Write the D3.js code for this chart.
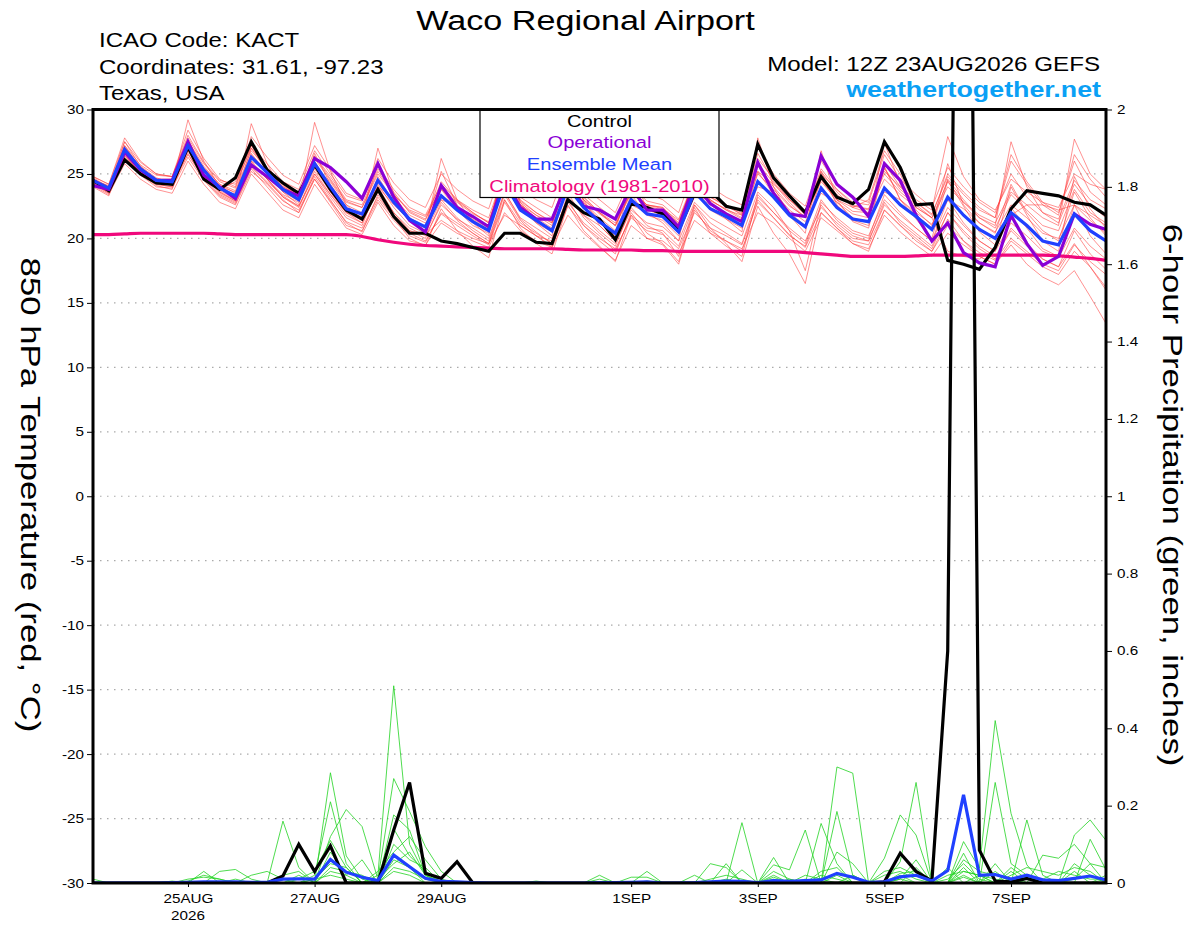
<!DOCTYPE html>
<html>
<head>
<meta charset="utf-8">
<script src="https://cdn.jsdelivr.net/npm/d3@7"></script>
<style>
  body { margin: 0; background: #fff; }
  svg { display: block; }
</style>
</head>
<body>
<div id="chart"></div>
<script>
// ---- data : 6-hourly steps from 12Z 23AUG2026 to 12Z 08SEP2026 ----
const runStart = "2026-08-23T12:00:00Z";
const stepHours = 6;

// 850 hPa temperature (C)
const controlTemp = [
  24.5, 23.7, 26.1, 25.0, 24.3, 24.2, 27.1, 24.6, 23.8, 24.7,
  27.5, 25.3, 24.3, 23.5, 25.7, 23.8, 22.2, 21.5, 23.8, 21.7,
  20.4, 20.4, 19.8, 19.6, 19.3, 19.0, 20.4, 20.4, 19.7, 19.6,
  23.0, 22.0, 21.5, 19.9, 22.7, 22.4, 21.9, 20.7, 23.5, 23.7,
  22.5, 22.2, 27.3, 24.7, 23.3, 22.0, 24.8, 23.2, 22.7, 23.8,
  27.5, 25.5, 22.6, 22.7, 18.3, 18.0, 17.6, 19.3, 22.3, 23.7,
  23.5, 23.3, 22.8, 22.6, 21.8
];
const operationalTemp = [
  24.1, 23.8, 26.7, 25.3, 24.5, 24.5, 27.5, 24.9, 24.0, 23.1,
  25.7, 24.8, 23.8, 23.3, 26.2, 25.5, 24.4, 23.1, 25.8, 23.2,
  21.4, 20.5, 24.1, 22.4, 21.7, 20.9, 24.6, 22.4, 21.5, 21.5,
  24.5, 22.5, 22.2, 21.5, 24.0, 22.2, 22.2, 20.9, 24.2, 22.7,
  21.9, 21.3, 25.9, 23.5, 21.9, 21.7, 26.4, 24.2, 23.2, 21.7,
  25.8, 24.5, 21.8, 19.8, 21.2, 18.9, 18.1, 17.8, 21.8, 19.6,
  17.9, 18.6, 21.9, 21.1, 20.7
];
const meanTemp = [
  24.5, 23.9, 26.9, 25.4, 24.5, 24.4, 27.2, 25.3, 23.9, 23.3,
  26.3, 25.1, 23.8, 23.0, 25.8, 24.0, 22.3, 21.9, 24.5, 22.8,
  21.5, 20.9, 23.3, 22.2, 21.3, 20.6, 24.3, 22.2, 21.4, 20.6,
  24.0, 22.4, 21.3, 20.4, 23.0, 21.9, 21.7, 20.5, 23.6, 22.3,
  21.7, 21.0, 24.4, 23.2, 21.8, 20.9, 23.9, 22.4, 21.5, 21.3,
  23.9, 22.6, 21.7, 20.7, 23.2, 21.8, 20.7, 20.0, 22.0, 21.0,
  19.8, 19.5, 21.9, 20.6, 19.8
];
const climoTemp = [
  20.3, 20.3, 20.35, 20.4, 20.4, 20.4, 20.4, 20.4, 20.35, 20.3,
  20.3, 20.3, 20.3, 20.3, 20.3, 20.3, 20.3, 20.15, 19.9, 19.7,
  19.55, 19.45, 19.4, 19.35, 19.3, 19.25, 19.2, 19.2, 19.2, 19.2,
  19.15, 19.1, 19.1, 19.1, 19.1, 19.05, 19.05, 19.0, 19.0, 19.0,
  19.0, 19.0, 19.0, 19.0, 19.0, 18.9, 18.8, 18.7, 18.6, 18.6,
  18.6, 18.6, 18.65, 18.7, 18.7, 18.7, 18.7, 18.7, 18.7, 18.7,
  18.7, 18.65, 18.55, 18.45, 18.3
];
const memberTemp = [
  [24.8, 24.2, 27.8, 26.0, 25.0, 24.8, 28.4, 26.2, 24.6, 24.0,
   27.9, 26.3, 24.9, 24.2, 27.2, 25.3, 23.5, 23.0, 26.2, 24.3,
   23.0, 22.4, 25.0, 23.8, 22.9, 22.3, 26.0, 23.8, 23.0, 22.4,
   25.8, 24.0, 23.0, 22.0, 24.8, 23.5, 23.0, 22.0, 25.5, 24.0,
   23.2, 22.6, 27.0, 25.0, 23.5, 22.5, 26.0, 24.2, 23.2, 22.8,
   26.5, 24.6, 23.4, 22.4, 25.5, 24.0, 22.8, 22.0, 25.0, 23.2,
   22.0, 21.5, 24.5, 23.0, 22.3],
  [24.2, 23.5, 26.2, 24.9, 24.0, 23.9, 26.3, 24.5, 23.2, 22.6,
   25.2, 24.2, 22.9, 22.2, 24.6, 22.9, 21.3, 20.8, 23.2, 21.6,
   20.4, 19.8, 21.9, 21.0, 20.2, 19.5, 22.8, 21.0, 20.2, 19.4,
   22.5, 21.0, 20.0, 19.2, 21.6, 20.6, 20.3, 19.2, 22.0, 20.8,
   20.2, 19.5, 22.8, 21.6, 20.3, 19.3, 22.0, 20.8, 19.8, 19.5,
   22.2, 21.0, 20.0, 19.0, 21.0, 19.8, 18.9, 18.3, 20.0, 19.0,
   18.0, 17.5, 19.5, 18.2, 17.2],
  [24.6, 23.8, 27.5, 25.6, 24.4, 24.1, 29.2, 26.0, 24.0, 23.0,
   28.9, 25.8, 23.6, 22.6, 29.0, 25.2, 22.6, 21.5, 27.0, 23.5,
   21.4, 20.6, 26.2, 23.0, 21.2, 20.2, 26.5, 22.8, 21.2, 20.2,
   26.0, 23.0, 21.0, 19.8, 24.5, 22.0, 21.2, 19.8, 25.8, 22.8,
   21.5, 20.5, 27.8, 24.0, 21.8, 20.4, 26.8, 23.0, 21.3, 20.8,
   25.5, 23.0, 21.5, 20.0, 24.5, 22.5, 20.5, 19.5, 24.0, 21.8,
   19.8, 19.0, 24.8, 22.3, 20.8],
  [24.0, 23.3, 26.5, 25.0, 24.2, 24.0, 26.8, 24.8, 23.6, 23.0,
   25.6, 24.4, 23.3, 22.5, 25.0, 23.4, 22.0, 21.7, 24.0, 22.6,
   21.4, 20.9, 23.2, 22.3, 21.6, 21.0, 24.6, 22.6, 21.8, 21.2,
   24.5, 23.0, 22.0, 21.2, 23.6, 22.6, 22.3, 21.4, 24.4, 23.2,
   22.6, 22.0, 25.2, 24.2, 23.0, 22.2, 25.0, 23.8, 22.8, 22.6,
   25.2, 24.0, 23.0, 22.2, 27.9, 24.8, 23.0, 22.2, 24.6, 23.6,
   22.8, 22.4, 25.0, 24.2, 23.8],
  [24.3, 23.6, 26.8, 25.3, 24.6, 24.5, 27.0, 25.0, 23.8, 23.4,
   26.0, 24.6, 23.4, 22.8, 25.4, 23.6, 22.0, 21.2, 24.2, 22.4,
   21.0, 20.4, 23.0, 21.6, 20.6, 19.8, 23.6, 21.5, 20.5, 19.6,
   23.5, 21.6, 20.4, 19.4, 22.4, 21.0, 20.4, 18.6, 22.6, 20.8,
   19.6, 18.2, 22.5, 20.4, 18.8, 16.5, 22.0, 20.8, 19.6, 19.0,
   22.2, 21.0, 19.8, 19.0, 21.5, 19.8, 18.6, 18.0, 19.5, 18.0,
   17.0, 16.4, 17.5, 15.5, 13.4],
  [24.7, 24.0, 27.2, 25.7, 24.9, 24.8, 27.8, 25.8, 24.4, 23.9,
   27.2, 25.8, 24.4, 23.8, 26.8, 25.0, 23.3, 22.9, 25.6, 23.8,
   22.4, 21.8, 24.2, 23.0, 22.2, 21.6, 25.2, 23.2, 22.4, 21.6,
   25.0, 23.4, 22.4, 21.5, 24.0, 22.9, 22.6, 21.5, 24.6, 23.2,
   22.5, 21.9, 25.8, 24.3, 22.8, 21.6, 24.8, 23.4, 22.5, 22.3,
   25.0, 23.6, 22.6, 21.6, 24.4, 22.8, 21.6, 20.8, 23.4, 22.2,
   21.0, 20.6, 23.8, 22.0, 21.2],
  [24.4, 23.7, 26.4, 25.1, 24.3, 24.2, 26.5, 24.7, 23.4, 22.8,
   25.5, 24.3, 23.0, 22.0, 24.8, 23.0, 21.2, 20.5, 23.4, 21.6,
   20.0, 19.4, 22.3, 20.6, 19.4, 18.5, 23.0, 20.8, 19.6, 18.8,
   22.6, 20.6, 19.4, 18.2, 21.8, 20.0, 19.5, 18.0, 22.2, 20.6,
   19.8, 19.0, 23.0, 21.6, 20.2, 19.4, 22.6, 21.0, 20.0, 19.8,
   22.8, 21.2, 20.2, 19.2, 22.0, 20.4, 19.2, 18.4, 20.8, 19.6,
   18.4, 17.8, 20.6, 18.8, 17.6],
  [24.5, 24.1, 26.6, 25.6, 24.7, 24.3, 27.0, 25.5, 24.2, 23.5,
   26.0, 25.3, 24.0, 23.3, 25.5, 24.4, 22.6, 22.0, 24.0, 23.2,
   21.8, 21.2, 23.0, 22.5, 21.5, 20.8, 24.0, 22.6, 21.6, 20.8,
   23.8, 22.8, 21.6, 20.6, 22.8, 22.2, 21.9, 20.7, 23.4, 22.6,
   21.9, 21.3, 24.0, 23.6, 22.2, 21.3, 23.5, 22.8, 21.9, 21.6,
   23.6, 23.0, 22.0, 21.1, 23.0, 22.3, 21.2, 20.5, 22.6, 21.6,
   20.4, 20.0, 22.6, 21.4, 20.4],
  [24.6, 23.9, 27.0, 25.4, 24.4, 24.2, 27.4, 25.2, 23.7, 23.1,
   26.6, 25.0, 23.6, 22.9, 26.0, 24.0, 22.2, 21.6, 24.8, 22.8,
   21.3, 20.8, 23.8, 22.2, 21.0, 20.4, 24.8, 22.3, 21.2, 20.5,
   24.5, 22.4, 21.2, 20.2, 23.4, 21.8, 21.4, 20.2, 24.0, 22.2,
   21.5, 20.8, 25.2, 23.4, 21.8, 20.8, 24.6, 22.8, 21.6, 21.2,
   27.4, 24.2, 22.2, 21.0, 24.6, 23.0, 21.6, 21.0, 27.5, 24.0,
   22.0, 21.2, 24.2, 22.6, 21.6],
  [24.4, 23.8, 26.9, 25.5, 24.6, 24.6, 27.3, 25.4, 24.0, 23.6,
   26.5, 25.2, 24.0, 23.4, 26.2, 24.5, 22.8, 22.4, 25.2, 23.4,
   22.2, 21.7, 23.8, 22.8, 21.9, 21.3, 24.8, 22.9, 22.0, 21.3,
   24.6, 23.0, 21.9, 21.0, 23.5, 22.5, 22.2, 21.2, 24.2, 22.9,
   22.3, 21.6, 25.0, 23.8, 22.5, 21.7, 24.4, 23.0, 22.1, 22.0,
   24.6, 23.4, 22.4, 21.6, 24.0, 22.8, 21.8, 21.2, 23.6, 22.6,
   21.6, 21.0, 27.7, 25.0, 23.8],
  [24.1, 23.4, 25.8, 24.6, 23.8, 23.5, 26.0, 24.2, 22.8, 22.3,
   25.0, 23.6, 22.2, 21.6, 24.2, 22.5, 20.8, 20.3, 22.8, 21.0,
   19.8, 19.5, 21.2, 20.4, 19.8, 19.3, 22.0, 20.6, 19.8, 19.3,
   21.8, 20.4, 19.3, 18.3, 21.0, 20.0, 19.8, 18.8, 21.4, 20.4,
   19.8, 19.2, 22.0, 21.2, 20.0, 19.0, 21.6, 20.6, 19.6, 19.2,
   21.8, 20.5, 19.5, 18.6, 20.4, 19.5, 18.6, 18.0, 19.8, 18.8,
   17.8, 17.2, 19.0, 17.8, 16.2],
  [24.8, 24.2, 27.5, 25.9, 25.0, 24.8, 28.0, 25.9, 24.5, 24.2,
   27.0, 25.5, 24.2, 23.6, 26.4, 24.8, 23.0, 22.6, 25.4, 23.6,
   22.0, 21.4, 24.4, 23.0, 22.0, 21.2, 25.0, 22.8, 21.8, 21.0,
   25.2, 23.2, 22.0, 21.0, 23.8, 22.6, 22.4, 21.0, 24.8, 23.4,
   22.6, 21.8, 26.2, 24.6, 23.0, 21.9, 25.4, 23.8, 22.6, 22.2,
   25.8, 24.0, 22.8, 21.8, 25.0, 23.6, 22.4, 21.6, 26.5, 24.4,
   22.8, 22.0, 26.0, 23.6, 22.6],
  [24.3, 23.5, 26.6, 25.0, 24.1, 23.8, 27.0, 24.9, 23.5, 22.9,
   25.9, 24.6, 23.2, 22.5, 25.2, 23.4, 21.8, 21.2, 23.8, 22.0,
   20.8, 20.2, 22.6, 21.5, 20.8, 20.0, 23.6, 21.6, 20.8, 20.0,
   23.2, 21.8, 20.6, 19.6, 22.2, 21.2, 20.9, 19.8, 22.8, 21.6,
   20.9, 20.2, 23.6, 22.4, 20.6, 17.5, 22.8, 21.6, 20.6, 20.2,
   23.0, 21.8, 20.8, 19.8, 22.4, 21.0, 19.8, 19.0, 21.2, 20.2,
   19.0, 18.5, 20.8, 19.4, 18.4],
  [24.6, 24.0, 27.1, 25.5, 24.6, 24.4, 27.6, 25.6, 24.2, 23.7,
   26.8, 25.4, 24.1, 23.4, 26.4, 24.6, 22.9, 22.4, 25.0, 23.4,
   22.1, 21.5, 24.0, 22.9, 22.0, 21.2, 25.4, 23.0, 22.0, 21.2,
   24.8, 23.2, 22.0, 21.0, 23.6, 22.6, 22.4, 21.2, 24.6, 23.0,
   22.2, 21.5, 25.6, 24.0, 22.6, 21.6, 25.2, 23.6, 22.4, 22.0,
   25.4, 23.8, 22.8, 21.9, 24.8, 23.4, 22.2, 21.6, 26.0, 24.2,
   22.6, 21.8, 26.5, 24.6, 23.2],
  [24.2, 23.6, 26.4, 25.0, 24.2, 24.0, 26.6, 24.6, 23.3, 22.7,
   25.4, 24.0, 22.6, 22.0, 24.6, 22.8, 21.0, 20.6, 23.0, 21.4,
   20.2, 19.7, 22.0, 21.2, 20.4, 19.6, 23.0, 21.2, 20.4, 19.6,
   22.8, 21.2, 20.2, 19.0, 21.8, 20.8, 20.6, 19.4, 22.6, 21.2,
   20.4, 19.6, 23.2, 22.0, 20.8, 19.8, 22.4, 21.2, 20.2, 19.8,
   22.6, 21.4, 20.4, 19.4, 22.0, 20.6, 19.4, 18.6, 20.6, 19.4,
   18.4, 17.8, 19.6, 17.8, 16.0],
  [24.5, 23.8, 27.2, 25.4, 24.5, 24.3, 27.6, 25.4, 23.9, 23.2,
   27.0, 25.2, 23.8, 23.0, 26.6, 24.2, 22.4, 21.8, 25.8, 23.0,
   21.6, 20.9, 25.2, 22.6, 21.4, 20.7, 26.0, 22.6, 21.4, 20.6,
   26.2, 22.8, 21.4, 20.4, 25.5, 22.2, 21.8, 20.6, 25.0, 22.6,
   21.8, 21.0, 26.0, 23.6, 22.0, 21.0, 25.2, 22.6, 21.4, 21.0,
   25.6, 23.0, 21.8, 20.8, 25.8, 22.6, 21.2, 20.4, 24.2, 22.0,
   20.6, 19.8, 23.6, 21.6, 20.2],
  [24.4, 23.7, 26.2, 25.1, 24.4, 24.2, 27.0, 24.8, 23.8, 24.4,
   27.2, 25.2, 24.2, 23.4, 25.6, 23.6, 22.0, 21.4, 23.6, 21.8,
   20.6, 20.3, 21.4, 20.6, 20.0, 19.6, 21.8, 21.0, 20.2, 19.8,
   23.0, 21.8, 21.0, 19.8, 22.6, 22.0, 21.6, 20.4, 23.2, 23.0,
   22.2, 21.8, 26.6, 24.4, 23.0, 21.8, 24.6, 23.0, 22.4, 23.0,
   26.8, 25.0, 22.4, 21.6, 19.0, 18.6, 18.4, 19.2, 21.8, 22.6,
   22.6, 22.2, 22.6, 21.8, 21.0],
  [24.5, 23.8, 26.8, 25.2, 24.4, 24.2, 26.8, 25.0, 23.6, 22.9,
   25.8, 24.6, 23.2, 22.4, 25.0, 23.2, 21.6, 21.0, 24.0, 22.0,
   20.6, 20.0, 22.8, 21.4, 20.4, 19.6, 23.4, 21.4, 20.2, 19.3,
   23.0, 21.0, 19.8, 18.8, 22.0, 20.4, 19.6, 18.2, 22.4, 20.4,
   19.4, 18.6, 23.4, 22.0, 20.6, 19.6, 23.0, 21.4, 20.4, 20.0,
   23.4, 22.0, 20.8, 19.8, 23.0, 21.2, 19.8, 19.0, 22.4, 20.8,
   19.2, 18.6, 22.6, 20.2, 18.8]
];

// 6-hour precipitation (inches)
const controlPrecip = [
  0, 0, 0, 0, 0, 0, 0, 0, 0, 0,
  0, 0, 0.018, 0.10, 0.03, 0.096, 0, 0, 0, 0.137,
  0.26, 0.025, 0.012, 0.055, 0, 0, 0, 0, 0, 0,
  0, 0, 0, 0, 0, 0, 0, 0, 0, 0,
  0, 0, 0, 0, 0, 0, 0, 0, 0, 0,
  0.003, 0.077, 0.03, 0.005, 0.60, 4.7, 0.085, 0.005, 0.003, 0.012,
  0, 0, 0, 0, 0
];
const meanPrecip = [
  0, 0, 0, 0, 0, 0.001, 0.002, 0.003, 0.003, 0.003,
  0.002, 0.002, 0.01, 0.011, 0.01, 0.061, 0.028, 0.015, 0.006, 0.072,
  0.042, 0.012, 0.004, 0.003, 0.001, 0, 0, 0, 0, 0,
  0, 0, 0.001, 0.001, 0.002, 0.003, 0, 0, 0.001, 0.003,
  0.005, 0.004, 0.001, 0.006, 0.004, 0.006, 0.008, 0.025, 0.015, 0.002,
  0.003, 0.016, 0.02, 0.005, 0.032, 0.228, 0.02, 0.022, 0.01, 0.02,
  0.008, 0.006, 0.012, 0.018, 0.008
];
const memberPrecip = [
  [0, 0, 0, 0, 0, 0, 0, 0, 0.03, 0.035,
   0.01, 0, 0.16, 0.04, 0, 0.285, 0.07, 0.01, 0, 0.176,
   0.137, 0.02, 0, 0, 0, 0, 0, 0, 0, 0,
   0, 0, 0, 0, 0, 0, 0, 0, 0, 0,
   0, 0.156, 0, 0.02, 0, 0, 0, 0.30, 0.284, 0,
   0, 0.055, 0.26, 0, 0, 0.077, 0, 0.05, 0, 0.163,
   0.02, 0, 0, 0.113, 0.034],
  [0, 0, 0, 0, 0, 0, 0.005, 0.02, 0.01, 0,
   0, 0, 0, 0, 0.02, 0.21, 0.05, 0, 0.02, 0.51,
   0.1, 0.02, 0.005, 0, 0, 0, 0, 0, 0, 0,
   0, 0, 0, 0, 0, 0.03, 0, 0, 0, 0,
   0.05, 0, 0, 0.066, 0, 0, 0.154, 0.05, 0, 0,
   0.064, 0.176, 0.124, 0, 0, 0.107, 0.038, 0.42, 0.18, 0.047,
   0, 0, 0.124, 0.163, 0.11],
  [0, 0, 0, 0, 0, 0.005, 0, 0.03, 0, 0.01,
   0, 0, 0.02, 0.03, 0, 0.12, 0.19, 0.146, 0.01, 0.27,
   0.185, 0.094, 0.03, 0, 0, 0, 0, 0, 0, 0,
   0, 0, 0, 0, 0, 0, 0, 0, 0, 0.05,
   0.04, 0, 0, 0.047, 0.034, 0.137, 0, 0, 0.02, 0,
   0, 0.025, 0.03, 0, 0.04, 0, 0.02, 0, 0.03, 0,
   0.072, 0.064, 0.10, 0.05, 0.04],
  [0, 0, 0, 0, 0, 0, 0, 0, 0, 0,
   0, 0, 0, 0.02, 0, 0.08, 0.02, 0, 0, 0.1,
   0.06, 0.04, 0, 0, 0, 0, 0, 0, 0, 0,
   0, 0, 0.02, 0, 0.015, 0.015, 0, 0, 0, 0,
   0, 0.034, 0, 0.015, 0, 0, 0, 0.185, 0.02, 0,
   0, 0.02, 0, 0, 0, 0.04, 0, 0.26, 0.05, 0.02,
   0, 0, 0.03, 0, 0.02],
  [0, 0, 0, 0, 0, 0, 0, 0, 0, 0,
   0, 0, 0, 0, 0.01, 0.05, 0.04, 0, 0, 0.06,
   0.04, 0, 0, 0, 0, 0, 0, 0, 0, 0,
   0, 0, 0, 0, 0, 0, 0, 0, 0.02, 0,
   0, 0, 0, 0, 0.01, 0, 0.03, 0.04, 0, 0,
   0.03, 0.04, 0.02, 0, 0.02, 0.03, 0.02, 0, 0.02, 0.04,
   0.03, 0.02, 0.04, 0.03, 0],
  [0, 0, 0, 0, 0, 0, 0, 0, 0, 0,
   0.02, 0.03, 0.01, 0, 0, 0.04, 0.03, 0.02, 0, 0.14,
   0.07, 0.03, 0, 0, 0, 0, 0, 0, 0, 0,
   0, 0, 0, 0, 0, 0, 0, 0, 0, 0,
   0.01, 0, 0, 0, 0, 0.01, 0, 0.02, 0, 0,
   0, 0, 0, 0, 0, 0.06, 0.03, 0.02, 0.01, 0,
   0, 0, 0, 0, 0],
  [0, 0, 0, 0, 0, 0, 0, 0, 0, 0,
   0, 0, 0, 0.01, 0.03, 0.11, 0.04, 0, 0.03, 0.08,
   0.12, 0.06, 0.01, 0, 0, 0, 0, 0, 0, 0,
   0, 0, 0, 0, 0, 0, 0, 0, 0, 0,
   0, 0, 0, 0, 0, 0, 0, 0.08, 0.05, 0,
   0, 0.01, 0.06, 0, 0, 0.02, 0, 0.03, 0, 0.02,
   0, 0, 0.01, 0.05, 0],
  [0.01, 0, 0, 0, 0, 0, 0, 0, 0, 0,
   0, 0, 0, 0, 0, 0, 0, 0, 0, 0.03,
   0.02, 0, 0, 0, 0, 0, 0, 0, 0.005, 0,
   0, 0, 0.01, 0, 0, 0.005, 0, 0, 0, 0,
   0, 0, 0, 0.01, 0, 0, 0, 0, 0, 0,
   0, 0.01, 0, 0, 0, 0.015, 0, 0, 0.01, 0,
   0, 0, 0, 0, 0.01],
  [0, 0, 0, 0, 0, 0, 0, 0, 0, 0,
   0, 0, 0, 0, 0, 0.03, 0.02, 0.06, 0, 0.04,
   0.03, 0.01, 0, 0, 0, 0, 0, 0, 0, 0,
   0, 0, 0, 0, 0, 0, 0, 0, 0, 0.01,
   0.02, 0.01, 0, 0.03, 0.01, 0, 0.02, 0.01, 0, 0,
   0.02, 0.03, 0.01, 0, 0.01, 0.05, 0.01, 0, 0.04, 0.01,
   0.01, 0.03, 0.02, 0.01, 0.01],
  [0, 0, 0, 0, 0, 0, 0.01, 0.015, 0.01, 0,
   0, 0, 0, 0, 0.01, 0.02, 0.01, 0, 0.01, 0.05,
   0.08, 0.02, 0, 0, 0, 0, 0, 0, 0, 0,
   0, 0, 0, 0, 0, 0, 0, 0, 0, 0,
   0, 0, 0, 0, 0, 0.02, 0.01, 0, 0, 0,
   0, 0, 0.04, 0, 0, 0.03, 0.02, 0.01, 0, 0,
   0, 0, 0.05, 0.02, 0]
];

// axes and labels
const tempTicks = [-30, -25, -20, -15, -10, -5, 0, 5, 10, 15, 20, 25, 30];
const precipTicks = [0, 0.2, 0.4, 0.6, 0.8, 1, 1.2, 1.4, 1.6, 1.8, 2];
const dateTicks = ["2026-08-25", "2026-08-27", "2026-08-29", "2026-09-01", "2026-09-03", "2026-09-05", "2026-09-07"];
const dateLabels = ["25AUG", "27AUG", "29AUG", "1SEP", "3SEP", "5SEP", "7SEP"];
const legendLabels = ["Control", "Operational", "Ensemble Mean", "Climatology (1981-2010)"];
const infoLines = ["ICAO Code: KACT", "Coordinates: 31.61, -97.23", "Texas, USA"];

// ---- chart ----
const width = 1200,
  height = 927;
const plot = { left: 93, right: 1106, top: 109.5, bottom: 883 };
const font = "'Liberation Sans', Arial, Helvetica, sans-serif";
// the original fonts are drawn wide, so every text gets stretched along its reading direction
const stretch = 1.22;

const colors = {
  control: "#000000",
  operational: "#8a00d6",
  mean: "#2040ff",
  climo: "#f0087c",
  memberT: "#ff3b3b",
  memberP: "#22d322"
};

const svg = d3
  .select("#chart")
  .append("svg")
  .attr("width", width)
  .attr("height", height)
  .style("font-family", font);

svg.append("rect").attr("width", width).attr("height", height).attr("fill", "#fff");

// time for each 6-hour step
const start = new Date(runStart);
const times = controlTemp.map((d, i) => d3.utcHour.offset(start, i * stepHours));

const x = d3
  .scaleUtc()
  .domain([times[0], times[times.length - 1]])
  .range([plot.left, plot.right]);

const yT = d3.scaleLinear().domain([-30, 30]).range([plot.bottom, plot.top]);
const yP = d3.scaleLinear().domain([0, 2]).range([plot.bottom, plot.top]);

// clip everything to the plot box (the control precip spike goes way off the top)
svg
  .append("clipPath")
  .attr("id", "plotClip")
  .append("rect")
  .attr("x", plot.left)
  .attr("y", plot.top)
  .attr("width", plot.right - plot.left)
  .attr("height", plot.bottom - plot.top);

// dotted grid lines
svg
  .append("g")
  .selectAll("line")
  .data(tempTicks.slice(1, -1))
  .join("line")
  .attr("x1", plot.left)
  .attr("x2", plot.right)
  .attr("y1", (d) => yT(d))
  .attr("y2", (d) => yT(d))
  .attr("stroke", "#aaaaaa")
  .attr("stroke-width", 1.2)
  .attr("stroke-dasharray", "1.5,5.5");

const lines = svg.append("g").attr("clip-path", "url(#plotClip)");

const lineT = d3
  .line()
  .x((d, i) => x(times[i]))
  .y((d) => yT(d));
const lineP = d3
  .line()
  .x((d, i) => x(times[i]))
  .y((d) => yP(d));

// ensemble members
lines
  .selectAll(".memberT")
  .data(memberTemp)
  .join("path")
  .attr("class", "memberT")
  .attr("d", lineT)
  .attr("fill", "none")
  .attr("stroke", colors.memberT)
  .attr("stroke-opacity", 0.7)
  .attr("stroke-width", 0.8);

lines
  .selectAll(".memberP")
  .data(memberPrecip)
  .join("path")
  .attr("class", "memberP")
  .attr("d", lineP)
  .attr("fill", "none")
  .attr("stroke", colors.memberP)
  .attr("stroke-width", 0.8);

// climatology
lines
  .append("path")
  .attr("d", lineT.curve(d3.curveMonotoneX)(climoTemp))
  .attr("fill", "none")
  .attr("stroke", colors.climo)
  .attr("stroke-width", 3.2);
lineT.curve(d3.curveLinear);

// thick lines : control, operational, mean
const thick = [
  { values: controlTemp, line: lineT, color: colors.control },
  { values: operationalTemp, line: lineT, color: colors.operational },
  { values: controlPrecip, line: lineP, color: colors.control },
  { values: meanTemp, line: lineT, color: colors.mean },
  { values: meanPrecip, line: lineP, color: colors.mean }
];
lines
  .selectAll(".thick")
  .data(thick)
  .join("path")
  .attr("class", "thick")
  .attr("d", (d) => d.line(d.values))
  .attr("fill", "none")
  .attr("stroke", (d) => d.color)
  .attr("stroke-width", 3.2)
  .attr("stroke-linejoin", "miter");

// legend box
const legendColors = [colors.control, colors.operational, colors.mean, colors.climo];
const legend = svg.append("g");
legend
  .append("rect")
  .attr("x", 480)
  .attr("y", plot.top)
  .attr("width", 239)
  .attr("height", 88)
  .attr("fill", "#fff")
  .attr("stroke", "#000")
  .attr("stroke-width", 1.2);
legend
  .selectAll("text")
  .data(legendLabels)
  .join("text")
  .attr("transform", (d, i) => `translate(599.5, ${126.7 + i * 21.6}) scale(${stretch},1)`)
  .attr("text-anchor", "middle")
  .attr("font-size", 16.5)
  .attr("fill", (d, i) => legendColors[i])
  .text((d) => d);

// plot frame
svg
  .append("rect")
  .attr("x", plot.left)
  .attr("y", plot.top)
  .attr("width", plot.right - plot.left)
  .attr("height", plot.bottom - plot.top)
  .attr("fill", "none")
  .attr("stroke", "#000")
  .attr("stroke-width", 3);

// axes
function styleAxis(g, textX) {
  g.select(".domain").remove();
  g.attr("font-family", font).attr("font-size", 12.5);
  g.selectAll(".tick line").attr("stroke", "#000").attr("stroke-width", 1);
  g.selectAll(".tick text").attr("fill", "#000").attr("transform", `scale(${stretch},1)`);
  if (textX !== undefined) g.selectAll(".tick text").attr("x", textX / stretch);
}

svg
  .append("g")
  .attr("transform", `translate(${plot.left},0)`)
  .call(d3.axisLeft(yT).tickValues(tempTicks).tickSize(6).tickFormat((d) => String(d)))
  .call((g) => styleAxis(g, -9));

svg
  .append("g")
  .attr("transform", `translate(${plot.right},0)`)
  .call(d3.axisRight(yP).tickValues(precipTicks).tickSize(6).tickFormat((d) => String(+d.toFixed(1))))
  .call((g) => styleAxis(g, 11));

const tickDates = dateTicks.map((d) => new Date(d + "T00:00:00Z"));
svg
  .append("g")
  .attr("transform", `translate(0,${plot.bottom})`)
  .call(d3.axisBottom(x).tickValues(tickDates).tickSize(4).tickPadding(7).tickFormat((d, i) => dateLabels[i]))
  .call((g) => styleAxis(g));

// year under the first date label
svg
  .append("text")
  .attr("transform", `translate(${x(tickDates[0])}, 920) scale(${stretch},1)`)
  .attr("text-anchor", "middle")
  .attr("font-size", 12.5)
  .text("2026");

// titles and header
svg
  .append("text")
  .attr("transform", `translate(585.5, 30) scale(${stretch},1)`)
  .attr("text-anchor", "middle")
  .attr("font-size", 28)
  .text("Waco Regional Airport");

svg
  .selectAll(".info")
  .data(infoLines)
  .join("text")
  .attr("class", "info")
  .attr("transform", (d, i) => `translate(99, ${47 + i * 26.7}) scale(${stretch},1)`)
  .attr("font-size", 19.7)
  .text((d) => d);

svg
  .append("text")
  .attr("transform", `translate(1100, 71) scale(${stretch},1)`)
  .attr("text-anchor", "end")
  .attr("font-size", 19.8)
  .text("Model: 12Z 23AUG2026 GEFS");

svg
  .append("text")
  .attr("transform", `translate(1101, 97) scale(${stretch},1)`)
  .attr("text-anchor", "end")
  .attr("font-size", 22)
  .attr("font-weight", "bold")
  .attr("fill", "#0aa0f5")
  .text("weathertogether.net");

// axis titles, read top to bottom
svg
  .append("text")
  .attr("transform", `translate(21, 495) rotate(90) scale(${stretch},1)`)
  .attr("text-anchor", "middle")
  .attr("font-size", 28.5)
  .text("850 hPa Temperature (red, °C)");

svg
  .append("text")
  .attr("transform", `translate(1163, 495) rotate(90) scale(${stretch},1)`)
  .attr("text-anchor", "middle")
  .attr("font-size", 28.5)
  .text("6-hour Precipitation (green, inches)");
</script>
</body>
</html>
